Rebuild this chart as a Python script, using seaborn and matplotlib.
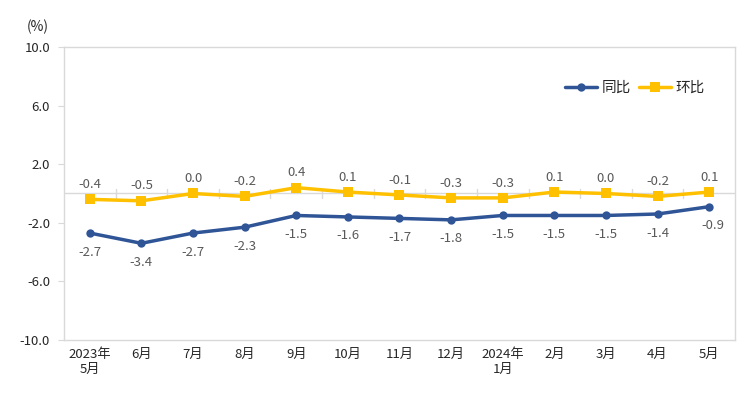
import numpy as np
import pandas as pd
import matplotlib
matplotlib.use("Agg")
import matplotlib.pyplot as plt
import seaborn as sns

# Data
months = ["2023年\n5月", "6月", "7月", "8月", "9月", "10月", "11月", "12月",
          "2024年\n1月", "2月", "3月", "4月", "5月"]
yoy = [-2.7, -3.4, -2.7, -2.3, -1.5, -1.6, -1.7, -1.8, -1.5, -1.5, -1.5, -1.4, -0.9]
mom = [-0.4, -0.5, 0.0, -0.2, 0.4, 0.1, -0.1, -0.3, -0.3, 0.1, 0.0, -0.2, 0.1]
yticks = [10.0, 6.0, 2.0, -2.0, -6.0, -10.0]

sns.set_style("white")
plt.rcParams["font.family"] = ["Noto Sans CJK SC", "DejaVu Sans"]
plt.rcParams["axes.unicode_minus"] = False

blue = "#2F5597"
gold = "#FFC000"
grey = "#D9D9D9"

df = pd.DataFrame({"x": np.arange(len(months)), "同比": yoy, "环比": mom})

fig = plt.figure(figsize=(7.46, 3.97), dpi=100)
ax = fig.add_axes([0.0858, 0.1436, 0.8994, 0.738])

sns.lineplot(data=df, x="x", y="同比", ax=ax, color=blue, lw=2.5, marker="o",
             markersize=6, markeredgewidth=0, label="同比")
sns.lineplot(data=df, x="x", y="环比", ax=ax, color=gold, lw=2.5, marker="s",
             markersize=7, markeredgewidth=0, label="环比")

# data labels
for i, v in enumerate(yoy):
    dx = 3 if i == len(yoy) - 1 else 0
    ax.annotate(f"{v:.1f}", (i, v), xytext=(dx, -9), textcoords="offset points",
                ha="center", va="top", fontsize=9.5, color="#595959")
for i, v in enumerate(mom):
    ax.annotate(f"{v:.1f}", (i, v), xytext=(0, 6), textcoords="offset points",
                ha="center", va="bottom", fontsize=9.5, color="#595959")

ax.set_xlim(-0.5, len(months) - 0.5)
ax.set_ylim(-10, 10)
ax.set_yticks(yticks)
ax.set_yticklabels([f"{t:.1f}" for t in yticks], fontsize=9.5)
ax.set_xticks(np.arange(len(months)))
ax.set_xticklabels(months, fontsize=9.5)
ax.set_xlabel("")
ax.set_ylabel("")
ax.tick_params(axis="x", length=0, pad=6)
ax.tick_params(axis="y", length=4, color=grey, pad=6, left=True)

# zero line with small separator ticks
ax.axhline(0, color=grey, lw=1, zorder=0)
for b in np.arange(0.5, len(months) - 0.5):
    ax.plot([b, b], [-0.3, 0.3], color=grey, lw=1, zorder=0)

for s in ax.spines.values():
    s.set_color(grey)
    s.set_linewidth(1)

ax.text(-0.039, 1.07, "(%)", transform=ax.transAxes, fontsize=10, ha="center", va="center")

ax.legend(loc="upper right", bbox_to_anchor=(0.975, 0.93), frameon=False, fontsize=10.5,
          ncol=2, handlelength=2.2, handletextpad=0.3, columnspacing=0.6)

fig.savefig("out.png", dpi=100)
